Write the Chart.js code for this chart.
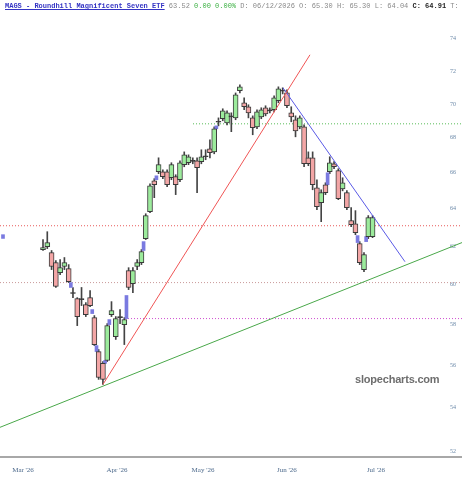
<!DOCTYPE html>
<html>
<head>
<meta charset="utf-8">
<script src="https://cdn.jsdelivr.net/npm/chart.js@4.4.1/dist/chart.umd.min.js"></script>
<style>
html, body { margin: 0; padding: 0; background: #fff; }
#wrap { position: relative; width: 462px; height: 480px; overflow: hidden; }
#head { position: absolute; left: 5px; top: 2px; width: 457px; overflow: hidden; white-space: nowrap;
        font: 7px 'Liberation Mono', monospace; color: #8a8a8a; }
#head .t { color: #3434c4; font-weight: bold; text-decoration: underline; }
#head .g { color: #3cb043; }
#head b { color: #222; }
#mark { position: absolute; left: 355px; top: 373px; font: bold 11px 'Liberation Sans', sans-serif;
        letter-spacing: -0.2px; color: #6e6e6e; }
</style>
</head>
<body>
<div id="wrap">
  <canvas id="chart" width="462" height="480"></canvas>
  <div id="head"><span class="t">MAGS - Roundhill Magnificent Seven ETF</span> 63.52 <span class="g">0.00 0.00%</span> D: 06/12/2026 O: 65.30 H: 65.30 L: 64.04 <b>C: 64.91</b> T: 71.</div>
  <div id="mark">slopecharts.com</div>
</div>
<script>
// daily candles, one slot per bar
const opens = [61.81, 61.96, 61.65, 61.12, 60.60, 60.92, 60.81, 59.58, 59.27, 59.27,
  58.97, 59.32, 58.32, 56.65, 56.08, 56.22, 58.47, 57.38, 58.37, 57.97,
  60.71, 60.04, 60.92, 61.12, 62.39, 63.84, 65.55, 66.06, 66.06, 66.06,
  65.72, 65.78, 65.61, 66.46, 66.57, 66.70, 66.68, 66.63, 66.97, 67.37,
  67.19, 68.97, 69.12, 68.88, 69.29, 69.17, 70.79, 70.07, 69.83, 69.17,
  68.64, 69.23, 69.77, 69.65, 69.65, 70.19, 70.82, 70.66, 69.47, 69.06,
  68.64, 68.64, 66.85, 66.85, 65.16, 64.33, 65.33, 66.06, 66.51, 66.12,
  65.10, 64.89, 63.36, 63.19, 62.12, 60.76, 62.50, 62.50];
const highs = [62.34, 62.76, 61.76, 61.23, 61.28, 61.39, 61.02, 59.84, 59.32, 59.84,
  59.07, 59.68, 58.42, 56.75, 56.17, 58.02, 59.12, 58.37, 58.72, 58.32,
  60.86, 60.86, 61.28, 61.81, 63.73, 65.38, 65.67, 66.85, 66.17, 66.17,
  66.57, 65.89, 66.68, 67.19, 67.02, 66.85, 66.85, 67.31, 67.31, 67.89,
  68.64, 69.17, 69.71, 69.59, 69.47, 70.66, 71.15, 70.37, 69.95, 69.29,
  69.65, 69.77, 69.89, 69.77, 70.48, 71.03, 70.97, 70.85, 69.83, 69.29,
  69.29, 68.76, 67.19, 67.19, 65.61, 65.05, 65.44, 66.91, 66.63, 66.23,
  65.72, 65.00, 64.06, 63.90, 62.23, 61.65, 63.63, 63.63];
const lows = [61.76, 61.86, 60.76, 59.84, 60.50, 60.76, 60.09, 59.32, 57.92, 58.92,
  58.37, 58.87, 56.94, 55.32, 55.08, 56.17, 58.37, 57.24, 58.02, 56.99,
  59.73, 59.58, 60.76, 61.02, 62.34, 63.79, 64.61, 65.95, 65.67, 65.22,
  65.61, 64.78, 65.50, 66.34, 66.46, 66.51, 64.89, 66.51, 66.74, 66.85,
  67.08, 68.70, 69.00, 68.76, 68.36, 69.06, 70.66, 69.65, 69.17, 68.18,
  68.53, 69.12, 69.29, 69.47, 69.53, 70.07, 70.60, 69.77, 68.94, 68.06,
  68.53, 66.34, 66.40, 65.05, 63.95, 63.30, 64.78, 65.95, 66.23, 64.50,
  64.99, 63.95, 63.03, 62.60, 61.02, 60.65, 62.39, 62.44];
const closes = [61.91, 62.18, 60.92, 59.89, 60.86, 61.12, 60.14, 59.53, 58.37, 59.22,
  58.47, 58.92, 56.99, 55.41, 55.32, 57.92, 58.67, 58.27, 58.32, 58.22,
  59.84, 60.71, 61.12, 61.70, 63.63, 65.27, 65.33, 66.46, 65.78, 65.33,
  66.46, 65.33, 66.57, 67.02, 66.91, 66.65, 66.29, 66.91, 66.91, 67.14,
  68.53, 68.91, 69.59, 69.47, 69.23, 70.54, 71.03, 69.83, 69.47, 68.59,
  69.53, 69.65, 69.41, 69.59, 70.37, 70.91, 70.76, 69.89, 69.23, 68.41,
  69.17, 66.51, 66.51, 65.33, 64.11, 64.89, 64.89, 66.57, 66.34, 64.56,
  65.44, 64.06, 63.14, 62.71, 61.12, 61.55, 63.52, 63.52];

// gap markers (blue) between bars
const gapX = [-8.35, 7.5, 12.5, 13.5, 15.5, 16.5, 20.5, 24.5, 27.5, 41.5, 67.5, 74.5, 76.5];
const gapLow = [62.40, 59.84, 58.52, 56.65, 56.08, 57.97, 58.27, 61.76, 65.61, 68.53, 65.33, 62.18, 62.23];
const gapHigh = [62.60, 60.09, 58.72, 56.94, 56.22, 58.22, 59.43, 62.23, 65.83, 68.70, 66.00, 62.55, 62.50];

// horizontal levels
const levelPrice = [63.08, 60.09, 58.27, 68.82];
const levelStart = [-9.05, -9.05, 20.16, 36.05];

// trend lines
const trendRed = [{x: 15, y: 55.08}, {x: 63.38, y: 73.0}];
const trendGreen = [{x: -9.05, y: 53.10}, {x: 98.9, y: 62.18}];
const trendBlue = [{x: 57.08, y: 70.97}, {x: 85.58, y: 61.17}];

const monthLabels = ["Mar '26", "Apr '26", "May '26", "Jun '26", "Jul '26"];
const monthPos = [-3.67, 18.29, 38.38, 58.0, 78.8];
const yTicks = [52, 54, 56, 58, 60, 62, 64, 66, 68, 70, 72, 74];

const X_MIN = -9.05, X_MAX = 98.9;

const bodyColors = opens.map((o, i) => {
    if (Math.abs(o - closes[i]) < 0.07) return '#333';
    return closes[i] > o ? '#9ceb9c' : '#f3a6a6';
});

function lineSet(points, color, dash) {
    return {
        type: 'line',
        data: points,
        borderColor: color,
        borderWidth: 1,
        borderDash: dash || [],
        pointRadius: 0,
        fill: false,
        tension: 0
    };
}

const levelColors = ['#e85a5a', '#c99a9a', '#cf4fd0', '#55bb55'];
const levelSets = levelPrice.map((p, i) =>
    lineSet([{x: levelStart[i], y: p}, {x: X_MAX, y: p}], levelColors[i], [1, 2]));

new Chart(document.getElementById('chart'), {
    type: 'bar',
    data: {
        datasets: [
            lineSet(trendRed, '#f05555'),
            lineSet(trendBlue, '#5a5ae6'),
            lineSet(trendGreen, '#4aa84a'),
            {
                data: opens.map((o, i) => ({x: i + 1, y: [o, closes[i]]})),
                backgroundColor: bodyColors,
                borderColor: '#3a3a3a',
                borderWidth: 1,
                borderSkipped: false,
                barThickness: 5,
                grouped: false
            },
            {
                data: gapX.map((x, i) => ({x: x, y: [gapLow[i], gapHigh[i]]})),
                backgroundColor: '#7a7ae0',
                borderWidth: 0,
                barThickness: 3,
                grouped: false
            },
            {
                data: opens.map((o, i) => ({x: i + 1, y: [lows[i], highs[i]]})),
                backgroundColor: '#444',
                borderWidth: 0,
                barThickness: 1,
                grouped: false
            },
            ...levelSets
        ]
    },
    options: {
        responsive: false,
        animation: false,
        events: [],
        layout: { padding: 0 },
        plugins: {
            legend: { display: false },
            tooltip: { enabled: false },
            title: { display: false }
        },
        scales: {
            x: {
                type: 'linear',
                min: X_MIN,
                max: X_MAX,
                offset: false,
                grid: { display: false, drawTicks: false },
                border: { display: true, color: '#a8a8a8', width: 2 },
                afterBuildTicks: scale => { scale.ticks = monthPos.map(v => ({value: v})); },
                afterFit: scale => { scale.height = 23; },
                ticks: {
                    autoSkip: false,
                    maxRotation: 0,
                    padding: 9,
                    color: '#4d6a8c',
                    font: { family: 'Liberation Serif', size: 7 },
                    callback: (v, i) => monthLabels[i]
                }
            },
            y: {
                type: 'logarithmic',
                position: 'right',
                min: 51.77,
                max: 76.5,
                grid: { display: false, drawTicks: false },
                border: { display: false },
                afterBuildTicks: scale => { scale.ticks = yTicks.map(v => ({value: v})); },
                afterFit: scale => { scale.width = 0; },
                ticks: {
                    mirror: true,
                    padding: -6,
                    autoSkip: false,
                    color: '#6a88a8',
                    font: { family: 'Liberation Serif', size: 6 },
                    callback: v => String(v)
                }
            }
        }
    }
});
</script>
</body>
</html>
